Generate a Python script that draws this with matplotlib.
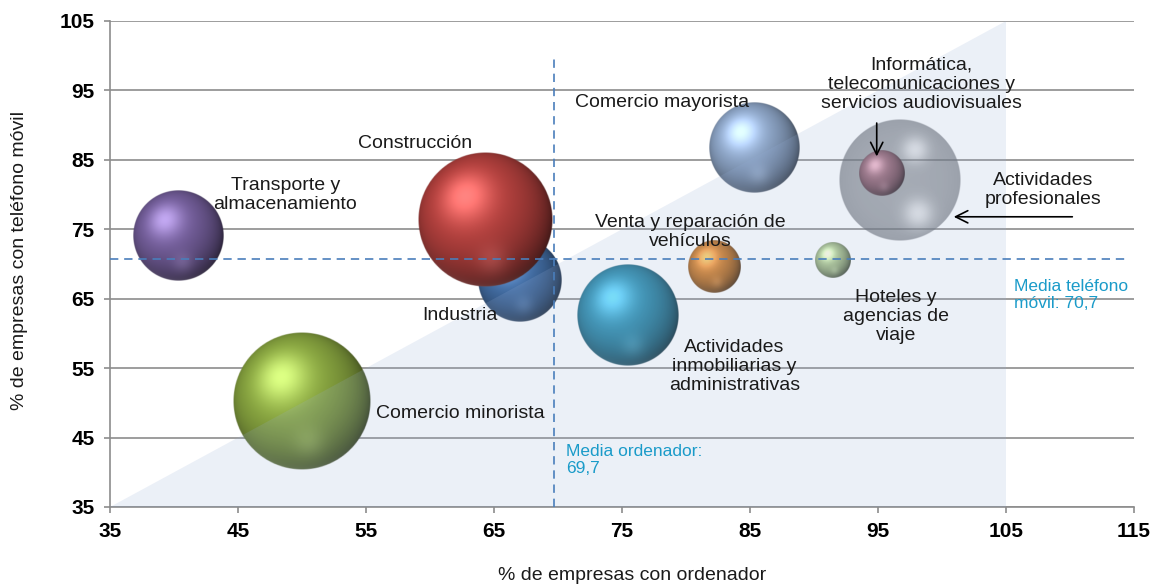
import numpy as np
import matplotlib
matplotlib.use("Agg")
import matplotlib.pyplot as plt
import matplotlib.colors as mcolors
from matplotlib.patches import Polygon

plt.rcParams['font.family'] = ['Liberation Sans', 'DejaVu Sans']

# datos: % empresas con ordenador (x), con telefono movil (y), tamaño de burbuja
sectores = ["Transporte y almacenamiento", "Industria", "Construcción", "Comercio minorista",
            "Actividades inmobiliarias y administrativas", "Venta y reparación de vehículos",
            "Comercio mayorista", "Actividades profesionales",
            "Informática, telecomunicaciones y servicios audiovisuales", "Hoteles y agencias de viaje"]
ordenador = [40.3, 67.0, 64.3, 50.0, 75.5, 82.2, 85.3, 96.7, 95.3, 91.5]
movil = [74.0, 67.7, 76.3, 50.3, 62.7, 69.6, 86.7, 82.1, 83.0, 70.6]
tamano = [20.3, 17.6, 45.0, 47.6, 26.0, 6.8, 20.3, 37.2, 5.1, 3.2]
colores = ["#76609e", "#4470a8", "#b8423f", "#8dab42", "#3395b6", "#d8842f",
           "#93accf", "#6a6d72", "#a0707e", "#b4cc94"]

media_ordenador = 69.7
media_movil = 70.7

x_ticks = [35, 45, 55, 65, 75, 85, 95, 105, 115]
y_ticks = [35, 45, 55, 65, 75, 85, 95, 105]


def esfera(color, n=240, transparente=False):
    c = np.array(mcolors.to_rgb(color))
    t = np.linspace(-1, 1, n)
    u, v = np.meshgrid(t, -t)
    rr = u**2 + v**2
    w = np.sqrt(np.clip(1 - rr, 0, 1))
    L = np.array([-0.3, 0.35, 0.89])
    L = L / np.linalg.norm(L)
    nl = u * L[0] + v * L[1] + w * L[2]
    diff = np.clip((nl + 0.5) / 1.5, 0, 1)
    spec = np.clip(nl, 0, 1) ** 14
    # reflejo suave abajo
    refl = np.exp(-((u - 0.1) ** 2 + (v + 0.6) ** 2) / 0.05)
    rim = np.clip(-v, 0, 1) ** 2 * (1 - w) ** 3
    if transparente:
        luz = np.exp(-((u - 0.25) ** 2 + (v - 0.5) ** 2) / 0.04) + np.exp(-((u - 0.3) ** 2 + (v + 0.55) ** 2) / 0.05)
        rgb = c[None, None, :] * np.ones_like(w)[..., None] + (0.45 * luz)[..., None] * (1 - c)
        a = 0.58 + 0.1 * (1 - w) - 0.25 * luz
    else:
        shade = 0.2 + 0.85 * diff
        claro = c + (1 - c) * 0.6
        rgb = c * shade[..., None] + (0.35 * spec + 0.12 * refl + 0.3 * rim)[..., None] * claro
        a = np.ones_like(w)
    rgb = np.clip(rgb, 0, 1)
    borde = np.clip((1 - np.sqrt(rr)) * n / 2, 0, 1)
    img = np.dstack([rgb, np.clip(a, 0, 1) * borde])
    return img


fig = plt.figure(figsize=(11.57, 5.85), dpi=100)
ax = fig.add_axes([110 / 1157, 1 - 507 / 585, 1024 / 1157, 486 / 585])
ax.set_xlim(35, 115)
ax.set_ylim(35, 105)

# escala pixel -> datos
px_x = ax.get_window_extent().width / 80.0
px_y = ax.get_window_extent().height / 70.0

for i in range(len(sectores)):
    r = 10 * np.sqrt(tamano[i])
    dx = r / px_x
    dy = r / px_y
    img = esfera(colores[i], transparente=(i == 7))
    ax.imshow(img, extent=[ordenador[i] - dx, ordenador[i] + dx, movil[i] - dy, movil[i] + dy],
              aspect='auto', interpolation='bilinear', zorder=3 + i * 0.01)

ax.set_xlim(35, 115)
ax.set_ylim(35, 105)

# triangulo de fondo
tri = Polygon([(35, 35), (105, 105), (105, 35)], closed=True, facecolor=(0.58, 0.68, 0.84),
              alpha=0.18, edgecolor='none', zorder=4)
ax.add_patch(tri)

# rejilla
ax.set_yticks(y_ticks)
ax.set_xticks(x_ticks)
ax.grid(axis='y', color='#8c8c8c', lw=1.2, zorder=1)
ax.set_axisbelow(True)
for s in ['top', 'right']:
    ax.spines[s].set_visible(False)
for s in ['left', 'bottom']:
    ax.spines[s].set_color('#8c8c8c')
    ax.spines[s].set_linewidth(1.2)
ax.tick_params(axis='both', length=4, width=1.2, color='#8c8c8c', pad=7,
               labelsize=15)
for lab in ax.get_xticklabels() + ax.get_yticklabels():
    lab.set_fontweight('bold')

# medias
ax.plot([media_ordenador, media_ordenador], [35, 99.5], color='#4a7ebb', lw=1.2,
        dashes=[5, 3.5], zorder=6)
ax.plot([35, 114.4], [media_movil, media_movil], color='#4a7ebb', lw=1.2,
        dashes=[5, 3.5], zorder=6)
ax.text(70.6, 44.1, "Media ordenador:\n69,7", color='#1a9bc9', fontsize=12.5,
        ha='left', va='top', zorder=7)
ax.text(105.6, 67.9, "Media teléfono\nmóvil: 70,7", color='#1a9bc9', fontsize=12.5,
        ha='left', va='top', zorder=7)

# etiquetas
etiquetas = [
    ("Transporte y\nalmacenamiento", 48.7, 79.9),
    ("Industria", 62.3, 62.6),
    ("Construcción", 58.8, 87.4),
    ("Comercio minorista", 62.4, 48.5),
    ("Actividades\ninmobiliarias y\nadministrativas", 83.8, 55.3),
    ("Venta y reparación de\nvehículos", 80.3, 74.6),
    ("Comercio mayorista", 78.1, 93.3),
    ("Actividades\nprofesionales", 107.9, 80.7),
    ("Informática,\ntelecomunicaciones y\nservicios audiovisuales", 98.4, 95.9),
    ("Hoteles y\nagencias de\nviaje", 96.4, 62.5),
]
for txt, tx, ty in etiquetas:
    ax.text(tx, ty, txt, ha='center', va='center', fontsize=14, color='#1a1a1a',
            linespacing=1.15, zorder=8)

ax.annotate("", xy=(94.9, 85.1), xytext=(94.9, 90.7),
            arrowprops=dict(arrowstyle='->', color='black', lw=1.2, mutation_scale=22),
            zorder=8)
ax.annotate("", xy=(100.7, 76.8), xytext=(110.4, 76.8),
            arrowprops=dict(arrowstyle='->', color='black', lw=1.2, mutation_scale=22),
            zorder=8)

fig.text(632 / 1157, 1 - 575 / 585, "% de empresas con ordenador", ha='center', va='center',
         fontsize=14, color='#1a1a1a')
fig.text(20 / 1157, 1 - 260 / 585, "% de empresas con teléfono móvil", ha='center',
         va='center', rotation=90, fontsize=14, color='#1a1a1a')

fig.savefig("out.png", dpi=100)
